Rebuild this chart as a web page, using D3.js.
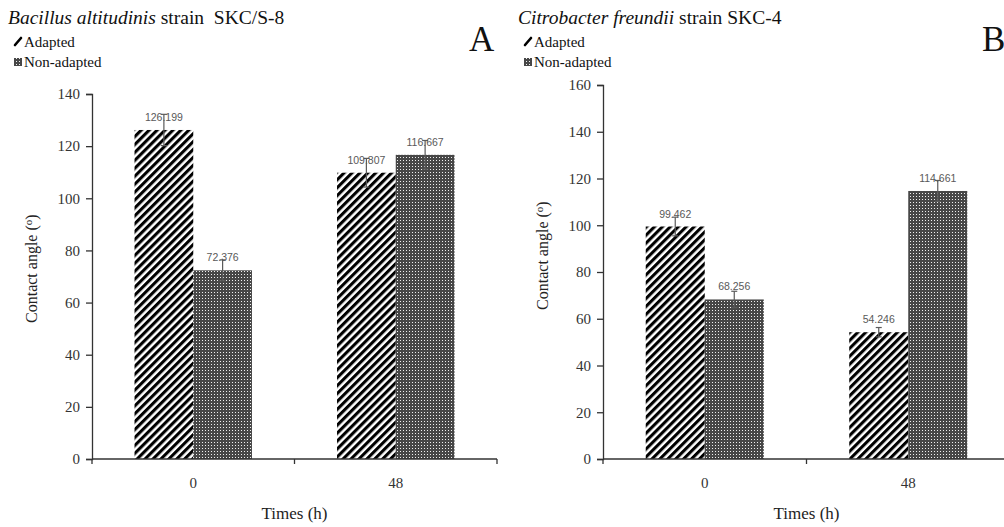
<!DOCTYPE html>
<html>
<head>
<meta charset="utf-8">
<script src="https://cdn.jsdelivr.net/npm/d3@7"></script>
<style>
  body { margin: 0; background: #fff; }
  svg { display: block; }
</style>
</head>
<body>
<svg id="chart" width="1004" height="527"></svg>
<script>
// data
const categories = ["0", "48"];
const seriesNames = ["Adapted", "Non-adapted"];

const adaptedA = [126.199, 109.807];
const nonAdaptedA = [72.376, 116.667];
const adaptedErrA = [6, 5.5];
const nonAdaptedErrA = [4, 5.5];
const yTicksA = [0, 20, 40, 60, 80, 100, 120, 140];

const adaptedB = [99.462, 54.246];
const nonAdaptedB = [68.256, 114.661];
const adaptedErrB = [4, 2];
const nonAdaptedErrB = [3.5, 4.5];
const yTicksB = [0, 20, 40, 60, 80, 100, 120, 140, 160];

const svg = d3.select("#chart");
const serif = "'Liberation Serif', 'Times New Roman', serif";

// patterns
const defs = svg.append("defs");
const stripes = defs.append("pattern")
    .attr("id", "stripes")
    .attr("patternUnits", "userSpaceOnUse")
    .attr("width", 5.6).attr("height", 5.6)
    .attr("patternTransform", "rotate(45)");
stripes.append("rect").attr("width", 5.6).attr("height", 5.6).attr("fill", "#fff");
stripes.append("rect").attr("width", 3.1).attr("height", 5.6).attr("fill", "#000");

const dots = defs.append("pattern")
    .attr("id", "dots")
    .attr("patternUnits", "userSpaceOnUse")
    .attr("width", 3).attr("height", 3);
dots.append("rect").attr("width", 3).attr("height", 3).attr("fill", "#474747");
dots.append("rect").attr("x", 1).attr("y", 1).attr("width", 1).attr("height", 1).attr("fill", "#f0f0f0");

const fills = { "Adapted": "url(#stripes)", "Non-adapted": "url(#dots)" };

function drawPanel(p) {
    const g = svg.append("g");

    // title + legend + panel letter
    const title = g.append("text")
        .attr("x", p.titleX).attr("y", 24)
        .attr("font-family", serif).attr("font-size", 19.5).attr("fill", "#111");
    title.append("tspan").attr("font-style", "italic").text(p.species);
    title.append("tspan").text(p.strain);

    g.append("text")
        .attr("x", p.letterX).attr("y", 51)
        .attr("font-family", serif).attr("font-size", 35).attr("fill", "#111")
        .text(p.letter);

    seriesNames.forEach((s, i) => {
        const ly = 43 + i * 20;
        const lx = p.titleX + 4;
        if (i === 0) {
            g.append("path")
                .attr("d", `M${lx + 3},${ly + 2} L${lx + 9},${ly - 5}`)
                .attr("stroke", "#000").attr("stroke-width", 2.6)
                .attr("stroke-linecap", "round");
        } else {
            g.append("rect")
                .attr("x", lx + 2).attr("y", ly - 5)
                .attr("width", 8).attr("height", 8)
                .attr("fill", "url(#dots)");
        }
        g.append("text")
            .attr("x", lx + 12).attr("y", ly + 4)
            .attr("font-family", serif).attr("font-size", 15).attr("fill", "#111")
            .text(s);
    });

    // scales
    const x = d3.scaleBand().domain(categories).range([p.left, p.right]);
    const bw = x.bandwidth();
    const xs = d3.scaleBand().domain(seriesNames).range([bw * 0.21, bw * 0.79]);
    const y = d3.scaleLinear().domain([0, p.yMax]).range([p.bottom, p.top]);

    // axes
    g.append("g")
        .attr("transform", `translate(${p.left},0)`)
        .call(d3.axisLeft(y).tickValues(p.yTicks).tickSize(6).tickPadding(6))
        .call(a => a.selectAll("text")
            .attr("font-family", serif).attr("font-size", 15).attr("fill", "#333"))
        .call(a => a.selectAll("line,path").attr("stroke", "#333").attr("stroke-width", 1.3));

    const rows = categories.map((c, i) => [
        { cat: c, s: "Adapted", v: p.adapted[i], e: p.adaptedErr[i] },
        { cat: c, s: "Non-adapted", v: p.nonAdapted[i], e: p.nonAdaptedErr[i] }
    ]).flat();

    g.selectAll("rect.bar")
        .data(rows)
        .join("rect")
        .attr("class", "bar")
        .attr("x", d => x(d.cat) + xs(d.s))
        .attr("width", xs.bandwidth())
        .attr("y", d => y(d.v))
        .attr("height", d => y(0) - y(d.v))
        .attr("fill", d => fills[d.s]);

    // x axis: ticks at band edges
    const xAxis = g.append("g").attr("transform", `translate(0,${p.bottom})`);
    xAxis.append("line")
        .attr("x1", p.left).attr("x2", p.right)
        .attr("stroke", "#333").attr("stroke-width", 1.3);
    const edges = categories.map(c => x(c)).concat([p.right]);
    xAxis.selectAll("line.tick")
        .data(edges)
        .join("line")
        .attr("class", "tick")
        .attr("x1", d => d).attr("x2", d => d)
        .attr("y1", 0).attr("y2", 5)
        .attr("stroke", "#333").attr("stroke-width", 1.3);
    xAxis.selectAll("text")
        .data(categories)
        .join("text")
        .attr("x", d => x(d) + bw / 2)
        .attr("y", 29)
        .attr("text-anchor", "middle")
        .attr("font-family", serif).attr("font-size", 15).attr("fill", "#333")
        .text(d => d);

    // error bars
    const cx = d => x(d.cat) + xs(d.s) + xs.bandwidth() / 2;
    const eb = g.selectAll("g.err").data(rows).join("g").attr("class", "err")
        .attr("stroke", "#5a5a5a").attr("stroke-width", 1.2);
    eb.append("line")
        .attr("x1", cx).attr("x2", cx)
        .attr("y1", d => y(d.v + d.e)).attr("y2", d => y(d.v - d.e));
    eb.append("line")
        .attr("x1", d => cx(d) - 3).attr("x2", d => cx(d) + 3)
        .attr("y1", d => y(d.v + d.e)).attr("y2", d => y(d.v + d.e));
    eb.append("line")
        .attr("x1", d => cx(d) - 3).attr("x2", d => cx(d) + 3)
        .attr("y1", d => y(d.v - d.e)).attr("y2", d => y(d.v - d.e));

    // value labels
    g.selectAll("text.val")
        .data(rows)
        .join("text")
        .attr("class", "val")
        .attr("x", cx)
        .attr("y", d => y(d.v) - 9)
        .attr("text-anchor", "middle")
        .attr("font-family", "'Liberation Sans', Arial, sans-serif")
        .attr("font-size", 10.5)
        .attr("fill", "#595959")
        .text(d => d3.format(".3f")(d.v));

    // axis titles
    const yt = g.append("text")
        .attr("transform", `translate(${p.left - 55},${y(p.yLabelAt)}) rotate(-90)`)
        .attr("text-anchor", "middle")
        .attr("font-family", serif).attr("font-size", 16).attr("fill", "#222");
    yt.append("tspan").text("Contact angle (");
    yt.append("tspan").attr("font-size", 11).attr("dy", -5).text("o");
    yt.append("tspan").attr("dy", 5).text(")");
    g.append("text")
        .attr("x", (p.left + p.right) / 2)
        .attr("y", p.bottom + 60)
        .attr("text-anchor", "middle")
        .attr("font-family", serif).attr("font-size", 17).attr("fill", "#222")
        .text("Times (h)");
}

drawPanel({
    species: "Bacillus altitudinis", strain: " strain\u00a0 SKC/S-8",
    letter: "A", letterX: 469, titleX: 8,
    left: 92, right: 497, top: 94, bottom: 459, yMax: 140, yTicks: yTicksA, yLabelAt: 73,
    adapted: adaptedA, nonAdapted: nonAdaptedA,
    adaptedErr: adaptedErrA, nonAdaptedErr: nonAdaptedErrA
});

drawPanel({
    species: "Citrobacter freundii", strain: " strain SKC-4",
    letter: "B", letterX: 982, titleX: 518,
    left: 603, right: 1010, top: 85, bottom: 459, yMax: 160, yTicks: yTicksB, yLabelAt: 87,
    adapted: adaptedB, nonAdapted: nonAdaptedB,
    adaptedErr: adaptedErrB, nonAdaptedErr: nonAdaptedErrB
});
</script>
</body>
</html>
